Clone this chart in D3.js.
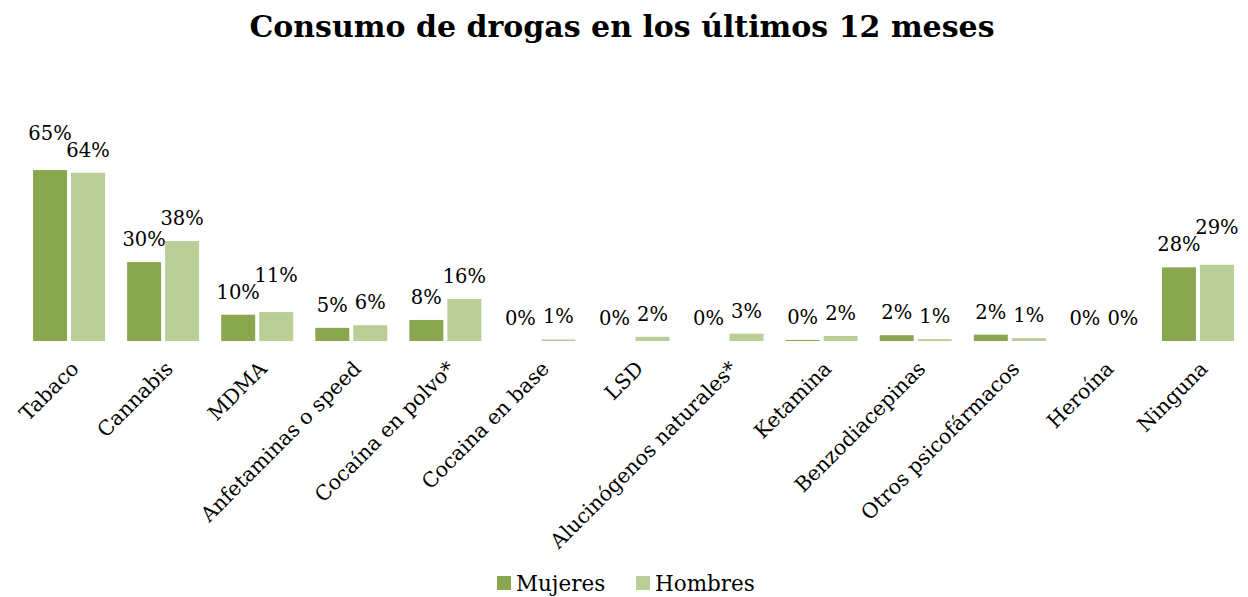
<!DOCTYPE html>
<html><head><meta charset="utf-8">
<script src="https://cdn.jsdelivr.net/npm/d3@7"></script>
<style>
html,body{margin:0;padding:0;background:#fff;}
svg{display:block;}
</style></head>
<body>
<svg id="chart" width="1248" height="597"></svg>
<script>
const title = "Consumo de drogas en los últimos 12 meses";
const categories = ["Tabaco","Cannabis","MDMA","Anfetaminas o speed","Cocaína en polvo*","Cocaina en base","LSD","Alucinógenos naturales*","Ketamina","Benzodiacepinas","Otros psicofármacos","Heroína","Ninguna"];
const seriesNames = ["Mujeres","Hombres"];
const mujeres = [65, 30, 10, 5, 8, 0, 0, 0, 0.4, 2.2, 2.4, 0, 28];
const hombres = [64, 38, 11, 6, 16, 0.6, 1.6, 2.8, 1.9, 0.7, 1.1, 0, 29];
const colors = ["#8aa64f", "#bacf97"];

const svg = d3.select("#chart");
const font = "'DejaVu Serif', serif";

const x0 = d3.scaleBand().domain(categories).range([22, 1245]).padding(0);
const x1 = d3.scaleBand().domain(seriesNames)
  .range([x0.bandwidth()/2 - 36, x0.bandwidth()/2 + 36]).paddingInner(4/38).paddingOuter(0);
const y = d3.scaleLinear().domain([0, 70]).range([341, 341 - 70*2.63]);
const color = d3.scaleOrdinal().domain(seriesNames).range(colors);

const rows = categories.map((c,i)=>({cat:c, vals:[{s:"Mujeres", v:mujeres[i]},{s:"Hombres", v:hombres[i]}]}));

svg.append("text").attr("x", 622).attr("y", 37).attr("text-anchor","middle")
  .style("font-family", font).style("font-weight","bold").style("font-size","30px").attr("fill","#000")
  .text(title);

const g = svg.append("g");
const groups = g.selectAll("g.grp").data(rows).join("g").attr("class","grp")
  .attr("transform", d=>`translate(${x0(d.cat)},0)`);

groups.selectAll("rect").data(d=>d.vals).join("rect")
  .attr("x", d=>x1(d.s)).attr("width", x1.bandwidth())
  .attr("y", d=>y(d.v)).attr("height", d=>y(0)-y(d.v))
  .attr("fill", d=>color(d.s));

const labels = groups.selectAll("text.val").data(d=>d.vals).join("text").attr("class","val")
  .attr("x", d=>x1(d.s)+x1.bandwidth()/2).attr("y", d=>y(d.v)-16)
  .attr("text-anchor","middle").style("font-family", font).style("font-size","19.5px").attr("fill","#000")
  .text(d=>Math.round(d.v)+"%");

// resolve label collisions inside each group: lift the taller bar's label above the other
groups.each(function(){
  const ts = d3.select(this).selectAll("text.val").nodes();
  if (ts.length < 2) return;
  const b0 = ts[0].getBBox(), b1 = ts[1].getBBox();
  const hOverlap = b0.x + b0.width > b1.x + 1;
  const vOverlap = Math.abs(b0.y - b1.y) < b0.height - 3;
  if (hOverlap && vOverlap) {
    const d0 = d3.select(ts[0]).datum(), d1 = d3.select(ts[1]).datum();
    const hi = d0.v >= d1.v ? 0 : 1, lo = 1 - hi;
    const yLo = +ts[lo].getAttribute("y");
    ts[hi].setAttribute("y", Math.min(+ts[hi].getAttribute("y"), yLo - 17));
  }
});

// x axis labels via d3 axis
const axis = d3.axisBottom(x0).tickSize(0).tickPadding(0);
const ax = svg.append("g").attr("transform","translate(0,341)").call(axis);
ax.select(".domain").remove();
ax.selectAll(".tick text")
  .attr("transform","translate(11,29) rotate(-45)")
  .attr("text-anchor","end").attr("dy","0").attr("y",0).attr("x",0)
  .style("font-family", font).style("font-size","20.5px").attr("fill","#000");

// legend
const leg = svg.append("g");
const legItems = [{s:"Mujeres", x:497},{s:"Hombres", x:636}];
legItems.forEach(it=>{
  leg.append("rect").attr("x", it.x).attr("y", 576).attr("width",14).attr("height",14).attr("fill", color(it.s));
  leg.append("text").attr("x", it.x+19).attr("y", 591).style("font-family", font).style("font-size","21.5px").attr("fill","#000").text(it.s);
});
</script>
</body></html>
